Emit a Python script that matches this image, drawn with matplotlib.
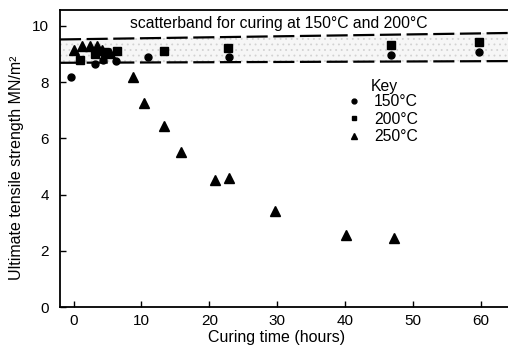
import matplotlib
matplotlib.use("Agg")
import matplotlib.pyplot as plt
from matplotlib.lines import Line2D

plt.rcParams['font.family'] = ['Liberation Sans', 'DejaVu Sans']
plt.rcParams['hatch.linewidth'] = 0.6

# 150 C (circles)
t150 = [-0.3, 3.1, 4.4, 6.3, 11.0, 22.9, 46.7, 59.7]
v150 = [8.17, 8.64, 8.78, 8.75, 8.88, 8.88, 8.97, 9.08]
# 200 C (squares)
t200 = [1.0, 3.1, 4.6, 6.4, 13.4, 22.7, 46.7, 59.7]
v200 = [8.78, 9.02, 9.08, 9.10, 9.12, 9.20, 9.32, 9.42]
# 250 C (triangles)
t250 = [0.1, 1.2, 2.4, 3.5, 4.2, 5.3, 8.8, 10.4, 13.4, 15.8, 20.8, 22.9, 29.7, 40.2, 47.2]
v250 = [9.15, 9.28, 9.28, 9.28, 9.15, 9.05, 8.18, 7.25, 6.45, 5.53, 4.52, 4.58, 3.42, 2.56, 2.44]

# scatterband limits
band_t = [-2, 64]
band_upper = [9.52, 9.75]
band_lower = [8.69, 8.75]

xticks = [0, 10, 20, 30, 40, 50, 60]
yticks = [0, 2, 4, 6, 8, 10]

fig = plt.figure(figsize=(5.08, 3.55), dpi=100)
ax = fig.add_axes([0.118, 0.135, 0.882, 0.837])

ax.fill_between(band_t, band_lower, band_upper, facecolor='#f6f6f6',
                edgecolor='#d2d2d2', hatch='...', linewidth=0, zorder=1)
ax.plot(band_t, band_upper, color='black', lw=1.6, dashes=(9.5, 2.5), zorder=2)
ax.plot(band_t, band_lower, color='black', lw=1.6, dashes=(9.5, 2.5), zorder=2)

ax.plot(t150, v150, 'o', color='black', ms=5, zorder=3, linestyle='none')
ax.plot(t200, v200, 's', color='black', ms=5.5, zorder=3, linestyle='none')
ax.plot(t250, v250, '^', color='black', ms=6.8, zorder=3, linestyle='none')

ax.text(30.3, 10.07, 'scatterband for curing at 150°C and 200°C',
        ha='center', va='center', fontsize=11.3)

ax.text(0.694, 0.744, 'Key', transform=ax.transAxes, ha='left', va='center', fontsize=11.3)
handles = [Line2D([], [], marker='o', color='black', ls='none', ms=3.5),
           Line2D([], [], marker='s', color='black', ls='none', ms=3.5),
           Line2D([], [], marker='^', color='black', ls='none', ms=4)]
ax.legend(handles, ['150°C', '200°C', '250°C'], loc='upper left',
          bbox_to_anchor=(0.638, 0.716), frameon=False, borderpad=0,
          borderaxespad=0, handlelength=1.0, handletextpad=0.8,
          labelspacing=0.15, fontsize=11.3)

ax.set_xlim(-2, 64)
ax.set_ylim(0, 10.57)
ax.set_xticks(xticks)
ax.set_yticks(yticks)
ax.tick_params(direction='in', length=4, width=1, labelsize=11, pad=5)
ax.tick_params(axis='y', pad=8)
ax.spines['right'].set_visible(False)
for s in ['left', 'bottom', 'top']:
    ax.spines[s].set_linewidth(1.3)

ax.set_xlabel('Curing time (hours)', fontsize=11.5)
ax.set_ylabel('Ultimate tensile strength MN/m²', fontsize=11.5)
ax.xaxis.set_label_coords(0.483, -0.078)
ax.yaxis.set_label_coords(-0.08, 0.47)

fig.savefig('out.png', dpi=100)
